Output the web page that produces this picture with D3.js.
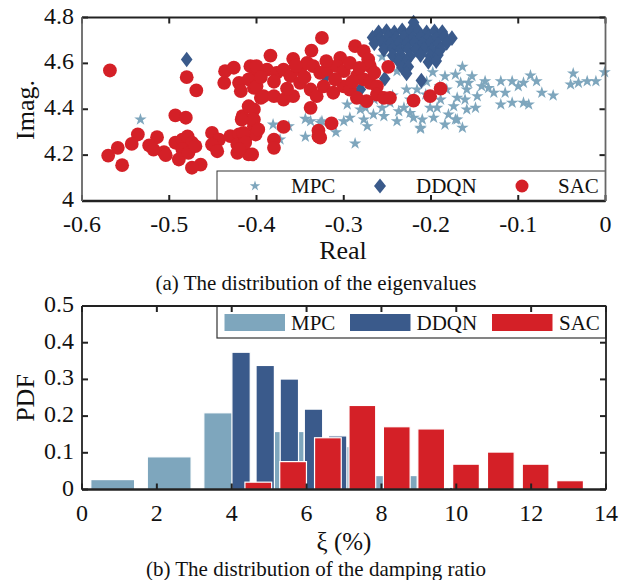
<!DOCTYPE html>
<html>
<head>
<meta charset="utf-8">
<script src="https://cdn.jsdelivr.net/npm/d3@7"></script>
<style>
body { margin: 0; background: #fff; }
svg { display: block; font-family: "Liberation Serif", "Times New Roman", serif; }
</style>
</head>
<body>
<svg width="620" height="580"></svg>
<script>
// ---- data (a): eigenvalues [real, imag]
const mpcEig = [
  [-0.533,4.355],[-0.404,4.384],[-0.381,4.333],[-0.373,4.268],[-0.344,4.358],[-0.338,4.348],[-0.327,4.341],
  [-0.344,4.280],[-0.309,4.300],[-0.363,4.326],[-0.325,4.348],[-0.300,4.348],[-0.293,4.363],[-0.296,4.421],
  [-0.281,4.399],[-0.277,4.355],[-0.273,4.326],[-0.266,4.377],[-0.254,4.370],[-0.256,4.406],[-0.247,4.428],
  [-0.237,4.391],[-0.224,4.384],[-0.239,4.348],[-0.231,4.406],[-0.220,4.363],[-0.212,4.319],[-0.287,4.251],
  [-0.256,4.629],[-0.239,4.566],[-0.228,4.486],[-0.216,4.486],[-0.197,4.363],[-0.170,4.355],[-0.164,4.585],
  [-0.198,4.561],[-0.184,4.544],[-0.172,4.551],[-0.153,4.544],[-0.138,4.522],[-0.120,4.522],[-0.107,4.522],
  [-0.094,4.515],[-0.086,4.547],[-0.079,4.522],[-0.037,4.556],[-0.021,4.522],[-0.011,4.522],[-0.001,4.561],
  [-0.040,4.508],[-0.031,4.515],[-0.073,4.472],[-0.060,4.460],[-0.094,4.428],[-0.088,4.421],[-0.107,4.428],
  [-0.120,4.421],[-0.115,4.472],[-0.128,4.472],[-0.134,4.493],[-0.147,4.457],[-0.149,4.406],[-0.159,4.399],
  [-0.161,4.442],[-0.170,4.450],[-0.174,4.413],[-0.172,4.355],[-0.180,4.377],[-0.210,4.355],[-0.212,4.315],
  [-0.193,4.406],[-0.182,4.486],[-0.159,4.486],[-0.166,4.515],[-0.157,4.515],[-0.206,4.464],[-0.189,4.442],
  [-0.201,4.406],[-0.184,4.333],[-0.164,4.319],[-0.224,4.442],[-0.244,4.460],[-0.265,4.442],[-0.275,4.406],
  [-0.205,4.520],[-0.190,4.500],[-0.142,4.500],[-0.100,4.500]
]
const ddqnEig = [
  [-0.480,4.617],[-0.253,4.533],[-0.211,4.525],[-0.321,4.543],[-0.281,4.486],[-0.220,4.778],[-0.186,4.725],
  [-0.260,4.736],[-0.251,4.741],[-0.242,4.735],[-0.233,4.744],[-0.224,4.738],[-0.215,4.742],[-0.205,4.735],[-0.196,4.740],[-0.187,4.737],
  [-0.267,4.713],[-0.258,4.709],[-0.249,4.716],[-0.240,4.711],[-0.231,4.715],[-0.221,4.710],[-0.212,4.716],[-0.203,4.712],[-0.194,4.709],[-0.185,4.714],[-0.176,4.710],
  [-0.265,4.687],[-0.256,4.690],[-0.247,4.684],[-0.237,4.689],[-0.228,4.686],[-0.219,4.690],[-0.210,4.685],[-0.201,4.688],[-0.192,4.684],[-0.182,4.689],
  [-0.254,4.660],[-0.244,4.664],[-0.235,4.658],[-0.226,4.662],[-0.217,4.659],[-0.208,4.663],[-0.199,4.657],[-0.189,4.661],
  [-0.244,4.634],[-0.235,4.637],[-0.224,4.631],[-0.212,4.636],[-0.201,4.632],[-0.192,4.636],
  [-0.237,4.608],[-0.228,4.611],[-0.203,4.606],[-0.194,4.610],
  [-0.233,4.582],[-0.226,4.585],[-0.228,4.556]
]
const sacEig = [
  [-0.568,4.569],[-0.480,4.540],[-0.469,4.482],[-0.493,4.373],[-0.481,4.363],[-0.536,4.290],[-0.543,4.249],
  [-0.559,4.232],[-0.570,4.198],[-0.554,4.156],[-0.514,4.278],[-0.523,4.242],[-0.518,4.224],[-0.506,4.213],
  [-0.504,4.200],[-0.493,4.254],[-0.485,4.268],[-0.479,4.282],[-0.474,4.254],[-0.485,4.225],[-0.489,4.181],
  [-0.478,4.210],[-0.470,4.239],[-0.464,4.159],[-0.474,4.145],[-0.451,4.297],[-0.443,4.268],[-0.451,4.246],
  [-0.445,4.217],[-0.430,4.283],[-0.420,4.290],[-0.422,4.246],[-0.413,4.268],[-0.422,4.210],[-0.409,4.203],
  [-0.416,4.370],[-0.405,4.355],[-0.409,4.413],[-0.403,4.326],[-0.401,4.290],[-0.436,4.566],[-0.426,4.581],
  [-0.437,4.515],[-0.420,4.515],[-0.418,4.479],[-0.407,4.588],[-0.401,4.559],[-0.409,4.530],[-0.403,4.493],
  [-0.395,4.450],[-0.325,4.711],[-0.384,4.634],[-0.337,4.656],[-0.358,4.620],[-0.304,4.624],[-0.287,4.675],
  [-0.277,4.653],[-0.272,4.617],[-0.270,4.588],[-0.249,4.585],[-0.220,4.438],[-0.201,4.457],[-0.189,4.490],
  [-0.400,4.588],[-0.388,4.573],[-0.377,4.559],[-0.369,4.573],[-0.361,4.544],[-0.350,4.573],[-0.342,4.602],
  [-0.335,4.588],[-0.327,4.559],[-0.319,4.573],[-0.308,4.588],[-0.300,4.566],[-0.293,4.602],[-0.285,4.544],
  [-0.277,4.530],[-0.270,4.515],[-0.262,4.500],[-0.400,4.500],[-0.392,4.457],[-0.380,4.457],[-0.369,4.442],
  [-0.358,4.457],[-0.350,4.515],[-0.338,4.486],[-0.331,4.457],[-0.323,4.500],[-0.312,4.472],[-0.300,4.500],
  [-0.293,4.486],[-0.285,4.450],[-0.274,4.435],[-0.262,4.464],[-0.254,4.450],[-0.247,4.450],[-0.338,4.406],
  [-0.314,4.338],[-0.369,4.323],[-0.329,4.307],[-0.329,4.282],[-0.380,4.268],[-0.380,4.232],[-0.403,4.399],
  [-0.403,4.355],[-0.398,4.312],[-0.405,4.203],[-0.327,4.276],[-0.417,4.355],[-0.415,4.297],[-0.413,4.254],
  [-0.420,4.225],[-0.365,4.490],[-0.345,4.540],[-0.310,4.530],[-0.290,4.520],[-0.355,4.590],[-0.380,4.520],
  [-0.395,4.540],[-0.320,4.610],[-0.282,4.580],[-0.265,4.560]
]

// ---- data (b): damping ratio histograms (bin centre in %, pdf)
const mpcBins = [0.82, 2.33, 3.84, 5.35, 6.86, 8.37, 9.88]
const mpcPdf  = [0.027, 0.089, 0.209, 0.158, 0.117, 0.038, 0.005]
const ddqnBins = [4.25, 4.895, 5.54, 6.185, 6.83, 7.475, 8.12, 8.765, 9.41, 10.055]
const ddqnPdf  = [0.374, 0.338, 0.301, 0.219, 0.146, 0.12, 0, 0, 0.03, 0.006]
const sacBins = [4.71, 5.64, 6.57, 7.49, 8.41, 9.33, 10.26, 11.19, 12.12, 13.04]
const sacPdf  = [0.020, 0.076, 0.141, 0.229, 0.171, 0.165, 0.069, 0.102, 0.069, 0.024]
const binWidth = {mpc: 1.17, ddqn: 0.49, sac: 0.714}

const xTicksA = [-0.6, -0.5, -0.4, -0.3, -0.2, -0.1, 0]
const yTicksA = [4, 4.2, 4.4, 4.6, 4.8]
const xTicksB = [0, 2, 4, 6, 8, 10, 12, 14]
const yTicksB = [0, 0.1, 0.2, 0.3, 0.4, 0.5]

const col = {MPC: '#7ea6bd', DDQN: '#3a5a8b', SAC: '#d42027'}

let svg = d3.select('svg')

// box with inward ticks on all four sides
function frame(x, y, xt, yt, fmtX, fmtY, sideCol) {
    let g = svg.append('g')
    let [x0, x1] = x.range(), [y0, y1] = y.range()
    xt.forEach(t => {
        g.append('line').attr('x1', x(t)).attr('x2', x(t)).attr('y1', y0).attr('y2', y0 - 6)
        g.append('line').attr('x1', x(t)).attr('x2', x(t)).attr('y1', y1).attr('y2', y1 + 6)
        g.append('text').attr('x', x(t)).attr('y', y0 + 31).attr('text-anchor', 'middle').text(fmtX(t))
    })
    yt.forEach(t => {
        g.append('line').attr('x1', x0).attr('x2', x0 + 6).attr('y1', y(t)).attr('y2', y(t))
        g.append('line').attr('x1', x1).attr('x2', x1 - 6).attr('y1', y(t)).attr('y2', y(t))
        g.append('text').attr('x', x0 - 8).attr('y', y(t) + 6).attr('text-anchor', 'end').text(fmtY(t))
    })
    g.selectAll('line').attr('stroke', '#222').attr('stroke-width', 2)
    g.selectAll('text').attr('font-size', 24).attr('fill', '#111')
    g.append('line').attr('x1', x0).attr('x2', x1).attr('y1', y0).attr('y2', y0).attr('stroke', '#222').attr('stroke-width', 2.5)
    g.append('line').attr('x1', x0).attr('x2', x1).attr('y1', y1).attr('y2', y1).attr('stroke', '#222').attr('stroke-width', 2)
    g.append('line').attr('x1', x0).attr('x2', x0).attr('y1', y0).attr('y2', y1).attr('stroke', sideCol).attr('stroke-width', 1.8)
    g.append('line').attr('x1', x1).attr('x2', x1).attr('y1', y0).attr('y2', y1).attr('stroke', sideCol).attr('stroke-width', 1.8)
}

const hyph = s => s.replace('\u2212', '-')

// markers
const starPath = s => d3.symbol(d3.symbolStar, s)()
const diamondPath = (w, h) => `M0,${-h}L${w},0L0,${h}L${-w},0Z`

// ================= (a) scatter
let xa = d3.scaleLinear().domain([-0.6, 0]).range([82, 605.5])
let ya = d3.scaleLinear().domain([4, 4.8]).range([201, 17.5])

let ga = svg.append('g')
ga.append('g').selectAll('path').data(mpcEig).enter().append('path')
    .attr('d', starPath(48))
    .attr('transform', d => `translate(${xa(d[0])},${ya(d[1])})`)
    .attr('fill', col.MPC)
ga.append('g').selectAll('path').data(ddqnEig).enter().append('path')
    .attr('d', diamondPath(5.8, 7.8))
    .attr('transform', d => `translate(${xa(d[0])},${ya(d[1])})`)
    .attr('fill', col.DDQN)
ga.append('g').selectAll('circle').data(sacEig).enter().append('circle')
    .attr('cx', d => xa(d[0])).attr('cy', d => ya(d[1])).attr('r', 6.9)
    .attr('fill', col.SAC)

// legend (a)
let la = svg.append('g')
la.append('rect').attr('x', 217).attr('y', 171).attr('width', 388.5).attr('height', 30)
    .attr('fill', '#fff').attr('stroke', '#333').attr('stroke-width', 1)
let legA = [{n: 'MPC', mx: 255, tx: 291}, {n: 'DDQN', mx: 380, tx: 416}, {n: 'SAC', mx: 522, tx: 558}]
legA.forEach(d => {
    if (d.n === 'MPC') la.append('path').attr('d', starPath(34)).attr('transform', `translate(${d.mx},186)`).attr('fill', col.MPC)
    if (d.n === 'DDQN') la.append('path').attr('d', diamondPath(6, 7.5)).attr('transform', `translate(${d.mx},186)`).attr('fill', col.DDQN)
    if (d.n === 'SAC') la.append('circle').attr('cx', d.mx).attr('cy', 186).attr('r', 6.5).attr('fill', col.SAC)
    la.append('text').attr('x', d.tx).attr('y', 193).attr('font-size', 21).attr('fill', '#111').text(d.n)
})

frame(xa, ya, xTicksA, yTicksA, t => t === 0 ? '0' : hyph(d3.format('.1f')(t)), t => t === 4 ? '4' : d3.format('.1f')(t), '#666')

svg.append('text').attr('transform', 'translate(34,110) rotate(-90)').attr('text-anchor', 'middle')
    .attr('font-size', 26).attr('fill', '#111').text('Imag.')
svg.append('text').attr('x', 343).attr('y', 259).attr('text-anchor', 'middle')
    .attr('font-size', 26).attr('fill', '#111').text('Real')
svg.append('text').attr('x', 316).attr('y', 290).attr('text-anchor', 'middle')
    .attr('font-size', 21).attr('fill', '#111').text('(a) The distribution of the eigenvalues')

// ================= (b) histogram
let xb = d3.scaleLinear().domain([0, 14]).range([82, 606])
let yb = d3.scaleLinear().domain([0, 0.5]).range([489.5, 306])

function bars(bins, pdf, w, c) {
    svg.append('g').selectAll('rect').data(bins.map((b, i) => [b, pdf[i]]).filter(d => d[1] > 0))
        .enter().append('rect')
        .attr('x', d => xb(d[0] - w / 2)).attr('width', xb(w) - xb(0))
        .attr('y', d => yb(d[1])).attr('height', d => yb(0) - yb(d[1]))
        .attr('fill', c).attr('stroke', '#fff').attr('stroke-width', 1.2)
}
bars(mpcBins, mpcPdf, binWidth.mpc, col.MPC)
bars(ddqnBins, ddqnPdf, binWidth.ddqn, col.DDQN)
bars(sacBins, sacPdf, binWidth.sac, col.SAC)

// legend (b)
let lb = svg.append('g')
lb.append('rect').attr('x', 217).attr('y', 306).attr('width', 389).attr('height', 32)
    .attr('fill', '#fff').attr('stroke', '#333').attr('stroke-width', 1.2)
let legB = [{n: 'MPC', sx: 224, tx: 291}, {n: 'DDQN', sx: 349.5, tx: 416.5}, {n: 'SAC', sx: 491.5, tx: 559}]
legB.forEach(d => {
    lb.append('rect').attr('x', d.sx).attr('y', 313.5).attr('width', 61.5).attr('height', 18)
        .attr('fill', col[d.n]).attr('stroke', '#fff').attr('stroke-width', 1)
    lb.append('text').attr('x', d.tx).attr('y', 329.5).attr('font-size', 21).attr('fill', '#111').text(d.n)
})

frame(xb, yb, xTicksB, yTicksB, t => String(t), t => t === 0 ? '0' : d3.format('.1f')(t), '#222')

svg.append('text').attr('transform', 'translate(34,398) rotate(-90)').attr('text-anchor', 'middle')
    .attr('font-size', 26).attr('fill', '#111').text('PDF')
svg.append('text').attr('x', 344).attr('y', 550).attr('text-anchor', 'middle')
    .attr('font-size', 25).attr('fill', '#111').text('\u03BE (%)')
svg.append('text').attr('x', 316).attr('y', 576).attr('text-anchor', 'middle')
    .attr('font-size', 21).attr('fill', '#111').text('(b) The distribution of the damping ratio')
</script>
</body>
</html>
